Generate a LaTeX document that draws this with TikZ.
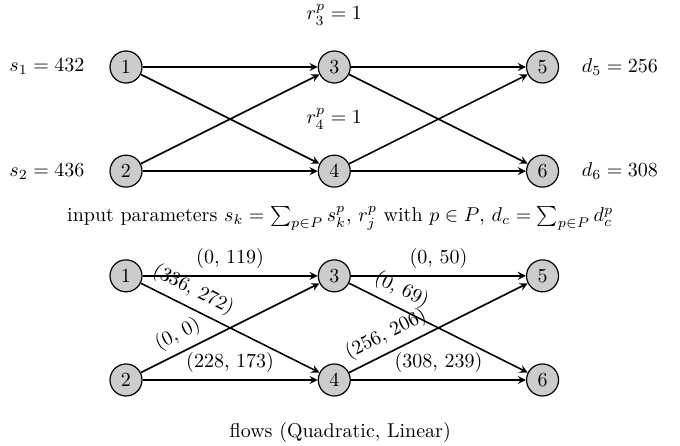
\documentclass[tikz,border=0pt]{standalone}
\begin{document}
\begin{tikzpicture}[>=stealth, node distance=3.66cm,
  vertex/.style={draw, semithick, circle, fill=gray!40, minimum size=16pt, inner sep=0pt},
  flow/.style={->, thick}]
% input parameters
\node[vertex] (t1) {1};
\node[vertex, right of=t1] (t3) {3};
\node[vertex, right of=t3] (t5) {5};
\node[vertex, below of=t1, node distance=1.83cm] (t2) {2};
\node[vertex, right of=t2] (t4) {4};
\node[vertex, right of=t4] (t6) {6};
\useasboundingbox ([xshift=-63pt, yshift=33.5pt]t1.center) rectangle ++(340pt,-222.5pt);
\node[left of=t1, node distance=1.39cm] (s1) {$s_1 = 432$};
\node[left of=t2, node distance=1.39cm] (s2) {$s_2 = 436$};
\node[right of=t5, node distance=1.36cm] (d5) {$d_5 = 256$};
\node[right of=t6, node distance=1.36cm] (d6) {$d_6 = 308$};
\node[above of=t3, node distance=0.92cm] (r3) {$r^p_3 = 1$};
\node[above of=t4, node distance=0.92cm] (r4) {$r^p_4 = 1$};
\draw[flow] (t1) -- (t3);
\draw[flow] (t1) -- (t4);
\draw[flow] (t2) -- (t3);
\draw[flow] (t2) -- (t4);
\draw[flow] (t3) -- (t5);
\draw[flow] (t3) -- (t6);
\draw[flow] (t4) -- (t5);
\draw[flow] (t4) -- (t6);
\node[below of=t4, node distance=0.83cm, xshift=3pt] (cap1) {input parameters $s_k = \sum_{p\in P} s^p_k$, $r^p_j$ with $p \in P$, $d_c = \sum_{p\in P} d^p_c$};
% flows
\node[vertex, below of=t1, node distance=3.67cm] (b1) {1};
\node[vertex, right of=b1] (b3) {3};
\node[vertex, right of=b3] (b5) {5};
\node[vertex, below of=b1, node distance=1.83cm] (b2) {2};
\node[vertex, right of=b2] (b4) {4};
\node[vertex, right of=b4] (b6) {6};
\draw[flow] (b1) -- node[above] {(0, 119)} (b3);
\draw[flow] (b1) -- node[above, sloped, near start] {(336, 272)} (b4);
\draw[flow] (b2) -- node[above, sloped, near start] {(0, 0)} (b3);
\draw[flow] (b2) -- node[above] {(228, 173)} (b4);
\draw[flow] (b3) -- node[above] {(0, 50)} (b5);
\draw[flow] (b3) -- node[above, sloped, near start] {(0, 69)} (b6);
\draw[flow] (b4) -- node[above, sloped, near start] {(256, 206)} (b5);
\draw[flow] (b4) -- node[above] {(308, 239)} (b6);
\node[below of=b4, node distance=0.93cm, xshift=3pt] (cap2) {flows (Quadratic, Linear)};
\end{tikzpicture}
\end{document}
